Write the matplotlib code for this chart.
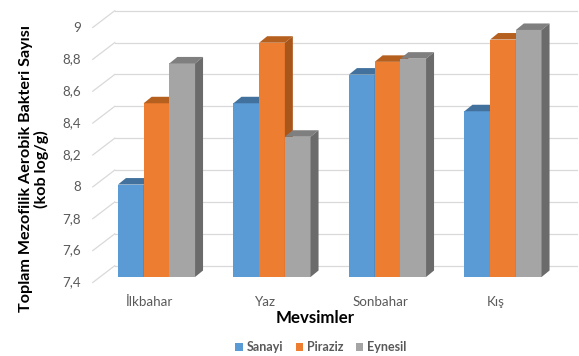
import matplotlib
matplotlib.use("Agg")
import matplotlib.pyplot as plt
from matplotlib.patches import Polygon, Patch
from matplotlib.transforms import ScaledTranslation

categories = ["İlkbahar", "Yaz", "Sonbahar", "Kış"]
series_names = ["Sanayi", "Piraziz", "Eynesil"]
sanayi = [7.98, 8.49, 8.67, 8.44]
piraziz = [8.49, 8.87, 8.75, 8.89]
eynesil = [8.74, 8.28, 8.77, 8.95]
yticks = [7.4, 7.6, 7.8, 8.0, 8.2, 8.4, 8.6, 8.8, 9.0]
ytick_labels = ["7,4", "7,6", "7,8", "8", "8,2", "8,4", "8,6", "8,8", "9"]

front_colors = ["#5b9bd5", "#ed7d31", "#a5a5a5"]
top_colors = ["#41719c", "#b6601f", "#7f7f7f"]
side_colors = ["#3f6e99", "#a9561b", "#6b6b6b"]

plt.rcParams['font.family'] = ['Lato', 'DejaVu Sans']

W, H, DPI = 579, 356, 100
fig = plt.figure(figsize=(W / DPI, H / DPI), dpi=DPI)

# bar front plane (pixel geometry)
L, R, T, B = 98.75, 560.75, 22.0, 277.0
ax = fig.add_axes([L / W, 1 - B / H, (R - L) / W, (B - T) / H])
ymin, ymax = 7.4, 9.0
ax.set_xlim(-0.5, len(categories) - 0.5)
ax.set_ylim(ymin, ymax)
ax.axis("off")

px_x = (len(categories)) / (R - L)   # data units per px (x)
px_y = (ymax - ymin) / (B - T)       # data units per px (y)

def off(dx, dy):
    return ax.transData + ScaledTranslation(dx / DPI, dy / DPI, fig.dpi_scale_trans)

grid_c = "#d9d9d9"
back = off(16, 11.3)
front = off(-6, -5.5)
x0, x1 = ax.get_xlim()
for yt, lab in zip(yticks, ytick_labels):
    ax.plot([x0, x1], [yt, yt], color=grid_c, lw=0.9, transform=back, clip_on=False, zorder=0)
    p_front = front.transform((x0, yt))
    p_back = back.transform((x0, yt))
    fig.lines.append(plt.Line2D([p_front[0], p_back[0]], [p_front[1], p_back[1]],
                                transform=None, color=grid_c, lw=0.9, zorder=0))
    ax.text(x0, yt, lab, transform=off(-17.5, -5.5), ha="right", va="center",
            fontsize=9.6, color="#595959")

# bars with 3D faces
w = 0.2225
ddx = 8 * px_x
ddy = 6.5 * px_y
all_series = [sanayi, piraziz, eynesil]
for i, cat in enumerate(categories):
    for j, vals in enumerate(all_series):
        v = vals[i]
        xc = i + (j - 1) * w
        xa, xb = xc - w / 2, xc + w / 2
        z = 3 + i * 3 + j
        ax.bar(xc, v - ymin, bottom=ymin, width=w, color=front_colors[j], lw=0, zorder=z)
        ax.add_patch(Polygon([(xa, v), (xb, v), (xb + ddx, v + ddy), (xa + ddx, v + ddy)],
                             closed=True, facecolor=top_colors[j], lw=0, zorder=z))
        ax.add_patch(Polygon([(xb, ymin), (xb, v), (xb + ddx, v + ddy), (xb + ddx, ymin + ddy)],
                             closed=True, facecolor=side_colors[j], lw=0, zorder=z))
    ax.text(i, ymin, cat, transform=off(-7, -25), ha="center", va="center",
            fontsize=9.6, color="#595959", clip_on=False)

fig.text(315 / W, 1 - 318 / H, "Mevsimler", ha="center", va="center",
         fontsize=12.2, fontweight="bold", color="black")
fig.text(34 / W, 1 - 169 / H, "Toplam Mezofilik Aerobik Bakteri Sayısı\n(kob log/g)",
         ha="center", va="center", rotation=90, fontsize=11.6, fontweight="bold",
         color="black", linespacing=1.15, multialignment="center")

handles = [Patch(facecolor=c, edgecolor="none") for c in front_colors]
leg = fig.legend(handles, series_names, loc="center", bbox_to_anchor=(321 / W, 1 - 347 / H),
                 ncol=3, frameon=False, handlelength=0.6, handleheight=0.6,
                 handletextpad=0.3, columnspacing=1.0,
                 prop={"weight": "bold", "size": 9.0, "family": ["Lato", "DejaVu Sans"]})
for t in leg.get_texts():
    t.set_color("#595959")

fig.savefig("out.png", dpi=DPI)
